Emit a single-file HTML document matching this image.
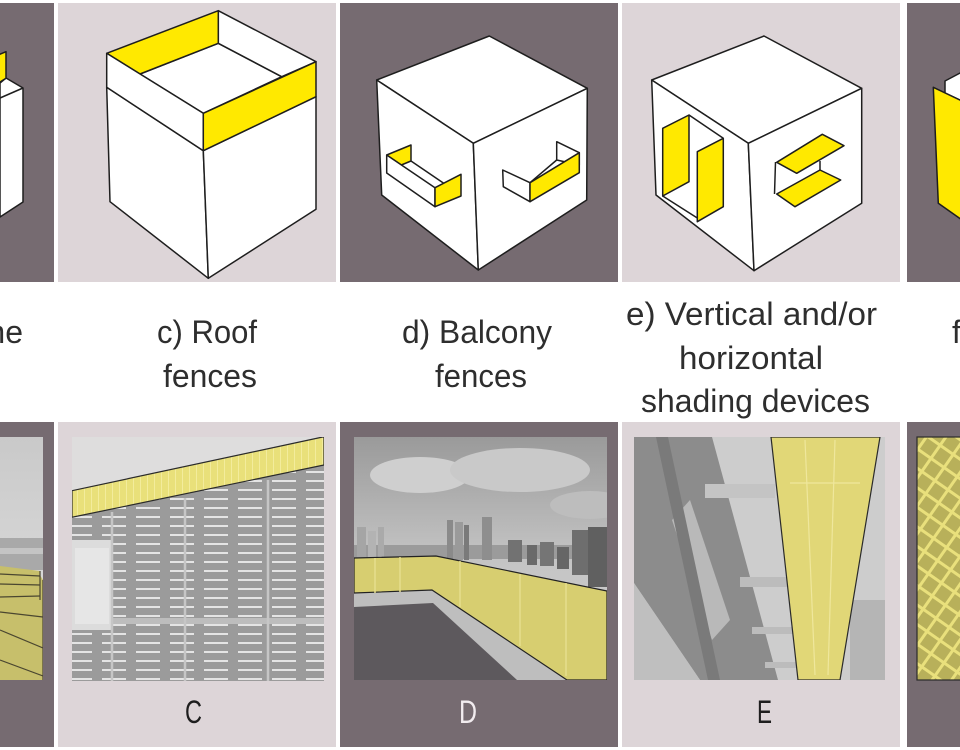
<!DOCTYPE html>
<html><head><meta charset="utf-8">
<style>
html,body{margin:0;padding:0;background:#fff;}
svg{display:block;}
text{font-family:"Liberation Sans",sans-serif;}
</style></head><body>
<svg width="960" height="750" viewBox="0 0 960 750" xmlns="http://www.w3.org/2000/svg">
<defs>
  <linearGradient id="sky1" x1="0" y1="0" x2="0" y2="1">
    <stop offset="0" stop-color="#c9c9c9"/><stop offset="1" stop-color="#e2e2e2"/>
  </linearGradient>
  <linearGradient id="skyD" x1="0" y1="0" x2="0" y2="1">
    <stop offset="0" stop-color="#9a9a9a"/><stop offset="0.5" stop-color="#c4c4c4"/><stop offset="1" stop-color="#d2d2d2"/>
  </linearGradient>
  <pattern id="louv" width="34" height="9" patternUnits="userSpaceOnUse">
    <rect width="34" height="9" fill="#9b9b9b"/>
    <rect x="0" y="3" width="24" height="2" fill="#e4e4e4"/>
  </pattern>
  <pattern id="ygrid" width="7" height="7" patternUnits="userSpaceOnUse">
    <rect width="7" height="7" fill="#e9e07a"/>
    <rect x="0" y="0" width="1" height="7" fill="#f3ec9c"/>
  </pattern>
  <pattern id="grid5" width="16" height="16" patternUnits="userSpaceOnUse" patternTransform="rotate(35)">
    <rect width="16" height="16" fill="#b8b05a"/>
    <rect x="0" y="0" width="16" height="3" fill="#e9e07c"/>
    <rect x="0" y="0" width="3" height="16" fill="#e9e07c"/>
  </pattern>
  <clipPath id="cC"><rect x="72" y="437" width="252" height="244"/></clipPath>
  <clipPath id="cD"><rect x="354" y="437" width="253" height="243"/></clipPath>
  <clipPath id="cE"><rect x="634" y="437" width="251" height="243"/></clipPath>
  <clipPath id="c1"><rect x="0" y="437" width="43" height="243"/></clipPath>
</defs>

<rect width="960" height="750" fill="#fff"/>

<!-- top panels -->
<rect x="0" y="3" width="54" height="279" fill="#766b71"/>
<rect x="58" y="3" width="278" height="279" fill="#ddd5d8"/>
<rect x="340" y="3" width="278" height="279" fill="#766b71"/>
<rect x="622" y="3" width="278" height="279" fill="#ddd5d8"/>
<rect x="907" y="3" width="53" height="279" fill="#766b71"/>

<!-- bottom panels -->
<rect x="0" y="422" width="54" height="325" fill="#766b71"/>
<rect x="58" y="422" width="278" height="325" fill="#ddd5d8"/>
<rect x="340" y="422" width="278" height="325" fill="#766b71"/>
<rect x="622" y="422" width="278" height="325" fill="#ddd5d8"/>
<rect x="907" y="422" width="53" height="325" fill="#766b71"/>

<g stroke="#1e1e1e" stroke-width="1.5" stroke-linejoin="round">
  <!-- Panel 1 partial cube -->
  <polygon points="0,83 6,78 23,88 23,202 0,217" fill="#fff"/>
  <polyline points="0,98 23,88" fill="none"/>
  <polygon points="-2,55 6,51.7 6,78.3 -2,83.3" fill="#ffe900"/>

  <!-- Panel 2 roof fence cube -->
  <polygon points="106.7,87.3 203.3,150.7 208.3,278.3 110,201.7" fill="#fff"/>
  <polygon points="203.3,150.7 316,96.7 316,209.3 208.3,278.3" fill="#fff"/>
  <polygon points="140,74 218.3,43.3 281.7,76.7 203.3,113.3" fill="#fff"/>
  <polygon points="218.3,10.7 316,61.7 281.7,76.7 218.3,43.3" fill="#fff"/>
  <polygon points="106.7,53.3 218.3,10.7 218.3,43.3 140,74" fill="#ffe900"/>
  <polygon points="106.7,53.3 203.3,113.3 203.3,150.7 106.7,87.3" fill="#fff"/>
  <polygon points="203.3,113.3 316,61.7 316,96.7 203.3,150.7" fill="#ffe900"/>

  <!-- Panel 3 balcony cube -->
  <polygon points="376.7,80 489.3,36 587.3,88.3 473.3,143.3" fill="#fff"/>
  <polygon points="376.7,80 473.3,143.3 478.3,270 381.7,195" fill="#fff"/>
  <polygon points="473.3,143.3 587.3,88.3 586.7,200 478.3,270" fill="#fff"/>
  <!-- left balcony -->
  <polygon points="386.7,155 411,145 411,161 401.3,165" fill="#ffe900"/>
  <polygon points="386.7,155 435,187.7 435,206.7 386.7,173" fill="#fff"/>
  <line x1="411" y1="161" x2="443.7" y2="183.3"/>
  <polygon points="435,187.7 461,174.3 461,196 435,206.7" fill="#ffe900"/>
  <!-- right balcony -->
  <polygon points="556.7,141.7 579.3,152.7 579.3,165 556.7,160" fill="#fff"/>
  <polygon points="502.7,170 530,182.7 530,201.7 503.3,186.7" fill="#fff"/>
  <line x1="530" y1="182.7" x2="556.7" y2="160"/>
  <polygon points="530,182.7 579.3,152.7 579.3,172.7 530,201.7" fill="#ffe900"/>

  <!-- Panel 4 shading cube -->
  <polygon points="651.7,80 764,36 861.7,88.3 748.3,143.3" fill="#fff"/>
  <polygon points="651.7,80 748.3,143.3 754,270.7 656,195" fill="#fff"/>
  <polygon points="748.3,143.3 861.7,88.3 861.7,203.3 754,270.7" fill="#fff"/>
  <line x1="689" y1="115" x2="723.3" y2="138.3"/>
  <line x1="662.7" y1="196" x2="697.3" y2="218"/>
  <polygon points="662.7,128.3 689,115 689,181.7 662.7,196" fill="#ffe900"/>
  <polygon points="697.3,151.7 723.3,138.3 723.3,206.7 697.3,221.7" fill="#ffe900"/>
  <line x1="775.5" y1="162" x2="774.5" y2="194"/>
  <line x1="820" y1="161" x2="820" y2="171"/>
  <polygon points="776.7,194 820,170 840.7,180 795,206.7" fill="#ffe900"/>
  <polygon points="776.7,162.3 822.3,134.3 844,145.7 796.7,173.3" fill="#ffe900"/>

  <!-- Panel 5 partial cube -->
  <polygon points="945,81 962,72 962,101 945,93" fill="#fff"/>
  <polygon points="933.3,87.3 962,101 962,220 938.3,203.3" fill="#ffe900"/>
</g>

<!-- Labels top -->
<g fill="#2e2e2e" font-size="32">
  <text x="23" y="343" text-anchor="end">ne</text>
  <text x="157" y="343" textLength="100" lengthAdjust="spacingAndGlyphs">c) Roof</text>
  <text x="163" y="387" textLength="94" lengthAdjust="spacingAndGlyphs">fences</text>
  <text x="402" y="343" textLength="150" lengthAdjust="spacingAndGlyphs">d) Balcony</text>
  <text x="435" y="387" textLength="92" lengthAdjust="spacingAndGlyphs">fences</text>
  <text x="626" y="325" textLength="251" lengthAdjust="spacingAndGlyphs">e) Vertical and/or</text>
  <text x="679" y="369" textLength="144" lengthAdjust="spacingAndGlyphs">horizontal</text>
  <text x="641" y="412" textLength="229" lengthAdjust="spacingAndGlyphs">shading devices</text>
  <text x="952" y="343">f</text>
</g>

<!-- Panel 1 bottom photo -->
<g clip-path="url(#c1)">
  <rect x="0" y="437" width="43" height="243" fill="url(#sky1)"/>
  <rect x="0" y="538" width="43" height="32" fill="#a9a9a9"/>
  <rect x="0" y="548" width="43" height="6" fill="#c4c4c4"/>
  <polygon points="0,566 40,571 40,575 43,580 43,680 0,680" fill="#c7bf6b"/>
  <g stroke="#4a4630" stroke-width="1.2" fill="none">
    <line x1="0" y1="574" x2="40" y2="576"/>
    <line x1="0" y1="584" x2="40" y2="585"/>
    <line x1="0" y1="597" x2="40" y2="596"/>
    <line x1="0" y1="612" x2="43" y2="617"/>
    <line x1="0" y1="630" x2="43" y2="648"/>
    <line x1="0" y1="660" x2="43" y2="676"/>
    <line x1="40" y1="571" x2="40" y2="600"/>
    <line x1="43" y1="580" x2="43" y2="680"/>
  </g>
</g>

<!-- Panel 2 bottom photo (C) -->
<g clip-path="url(#cC)">
  <rect x="72" y="437" width="252" height="244" fill="#dedddd"/>
  <polygon points="72,517 324,465 324,681 72,681" fill="url(#louv)"/>
  <rect x="72" y="540" width="40" height="90" fill="#dcdcdc"/>
  <rect x="75" y="548" width="34" height="76" fill="#e6e6e6"/>
  <rect x="72" y="630" width="40" height="51" fill="url(#louv)"/>
  <rect x="112" y="618" width="212" height="6" fill="#bdbdbd"/>
  <g stroke="#c6c6c6" stroke-width="2.5">
    <line x1="112" y1="512" x2="112" y2="681"/>
    <line x1="185" y1="498" x2="185" y2="681"/>
    <line x1="268" y1="480" x2="268" y2="681"/>
  </g>
  <polygon points="72,490.7 324,436.7 324,465 72,517.3" fill="url(#ygrid)" stroke="#2a2a2a" stroke-width="1.2"/>
</g>

<!-- Panel 3 bottom photo (D) -->
<g clip-path="url(#cD)">
  <rect x="354" y="437" width="253" height="243" fill="url(#skyD)"/>
  <ellipse cx="420" cy="475" rx="50" ry="18" fill="#cfcfcf"/>
  <ellipse cx="520" cy="470" rx="70" ry="22" fill="#c9c9c9"/>
  <ellipse cx="590" cy="505" rx="40" ry="14" fill="#bdbdbd"/>
  <rect x="354" y="545" width="253" height="14" fill="#9b9b9b"/>
  <rect x="357" y="527" width="9" height="32" fill="#a5a5a5"/>
  <rect x="368" y="531" width="8" height="28" fill="#b3b3b3"/>
  <rect x="378" y="527" width="6" height="32" fill="#aaaaaa"/>
  <rect x="447" y="520" width="6" height="40" fill="#8a8a8a"/>
  <rect x="455" y="522" width="8" height="38" fill="#9a9a9a"/>
  <rect x="464" y="525" width="5" height="35" fill="#7a7a7a"/>
  <rect x="482" y="517" width="10" height="43" fill="#8e8e8e"/>
  <rect x="508" y="540" width="14" height="22" fill="#727272"/>
  <rect x="527" y="545" width="10" height="20" fill="#6a6a6a"/>
  <rect x="540" y="542" width="14" height="24" fill="#757575"/>
  <rect x="557" y="547" width="12" height="22" fill="#666"/>
  <rect x="572" y="530" width="16" height="45" fill="#6e6e6e"/>
  <rect x="588" y="527" width="19" height="60" fill="#606060"/>
  <polygon points="354,593 432,590 567,680 354,680" fill="#bebebe"/>
  <polygon points="354,607 433,603 517,680 354,680" fill="#5d595d"/>
  <polygon points="354,558 436,556 607,591 607,680 567,680 432,590 354,593" fill="#d7ce70" stroke="#222" stroke-width="1.2"/>
  <g stroke="#e6df8e" stroke-width="1.5">
    <line x1="375" y1="558" x2="375" y2="593"/>
    <line x1="400" y1="557" x2="400" y2="592"/>
    <line x1="460" y1="561" x2="460" y2="607"/>
    <line x1="520" y1="574" x2="520" y2="646"/>
    <line x1="566" y1="583" x2="566" y2="676"/>
  </g>
</g>

<!-- Panel 4 bottom photo (E) -->
<g clip-path="url(#cE)">
  <rect x="634" y="437" width="251" height="243" fill="#cdcdcd"/>
  <polygon points="634,437 712,437 778,680 700,680 634,583" fill="#8c8c8c"/>
  <polygon points="634,583 700,680 634,680" fill="#bfbfbf"/>
  <polygon points="672,520 690,500 730,620 712,640" fill="#b9b9b9"/>
  <polygon points="656,437 668,437 720,680 708,680" fill="#7a7a7a"/>
  <rect x="705" y="484" width="70" height="14" fill="#c4c4c4"/>
  <rect x="740" y="577" width="60" height="10" fill="#bcbcbc"/>
  <rect x="752" y="627" width="50" height="7" fill="#bcbcbc"/>
  <rect x="765" y="662" width="40" height="6" fill="#bcbcbc"/>
  <rect x="850" y="600" width="35" height="80" fill="#b5b5b5"/>
  <polygon points="771,437 880,437 840,680 798,680" fill="#e1d777" stroke="#2a2a2a" stroke-width="1.2"/>
  <g stroke="#efe79c" stroke-width="1.2">
    <line x1="790" y1="483" x2="860" y2="483"/>
    <line x1="805" y1="440" x2="815" y2="675"/>
    <line x1="835" y1="440" x2="828" y2="675"/>
  </g>
</g>

<!-- Panel 5 bottom photo -->
<rect x="917" y="437" width="45" height="243" fill="url(#grid5)" stroke="#2a2a2a" stroke-width="1.2"/>

<!-- Bottom labels -->
<g font-size="32">
  <text x="185" y="723" fill="#1e1e1e" textLength="17" lengthAdjust="spacingAndGlyphs">C</text>
  <text x="459" y="723" fill="#f2ecef" textLength="18" lengthAdjust="spacingAndGlyphs">D</text>
  <text x="757" y="723" fill="#1e1e1e" textLength="15" lengthAdjust="spacingAndGlyphs">E</text>
</g>
</svg>
</body></html>
